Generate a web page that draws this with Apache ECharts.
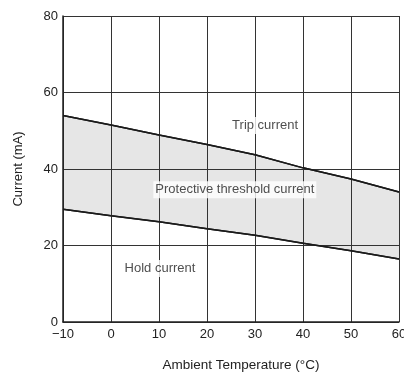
<!DOCTYPE html>
<html>
<head>
<meta charset="utf-8">
<script src="https://cdn.jsdelivr.net/npm/echarts@6/dist/echarts.min.js"></script>
<style>
  html, body { margin: 0; padding: 0; background: #fff; }
  #chart { width: 404px; height: 374px; }
</style>
</head>
<body>
<div id="chart"></div>
<script>
// Ambient temperature (°C) sample points
const temperatures = [-10, 0, 10, 20, 30, 40, 50, 60];
// Trip current (mA) – upper boundary
const tripCurrent = [54.0, 51.5, 48.9, 46.4, 43.7, 40.3, 37.4, 34.0];
// Hold current (mA) – lower boundary
const holdCurrent = [29.5, 27.8, 26.2, 24.4, 22.7, 20.6, 18.6, 16.5];
// Region annotations: [temperature, current, text]
const regionLabels = [
  [32.1, 51.4, 'Trip current'],
  [25.8, 34.6, 'Protective threshold current'],
  [10.2, 14.0, 'Hold current']
];

const FONT = 'Liberation Sans, Arial, Helvetica, sans-serif';
const INK = '#222';

const pairs = (ys) => temperatures.map((t, i) => [t, ys[i]]);

const chart = echarts.init(document.getElementById('chart'), null, { renderer: 'canvas' });

chart.setOption({
  animation: false,
  backgroundColor: '#fff',
  grid: { left: 63, right: 5, top: 16, bottom: 52, containLabel: false, outerBoundsMode: 'none' },
  xAxis: {
    type: 'value',
    min: -10, max: 60, interval: 10,
    z: 5,
    name: 'Ambient Temperature (°C)',
    nameLocation: 'middle',
    nameGap: 36,
    nameTextStyle: { fontFamily: FONT, fontSize: 13.5, color: INK, padding: [0, 0, 0, 20] },
    axisLine: { show: true, onZero: false, lineStyle: { color: INK, width: 1.5 } },
    axisTick: { show: false },
    axisLabel: {
      margin: 6, fontFamily: FONT, fontSize: 13, color: INK,
      formatter: (v) => String(v).replace('-', '\u2212')
    },
    splitLine: { show: true, lineStyle: { color: '#333', width: 1 } }
  },
  yAxis: {
    type: 'value',
    min: 0, max: 80, interval: 20,
    z: 5,
    name: 'Current (mA)',
    nameLocation: 'middle',
    nameGap: 38,
    nameTextStyle: { fontFamily: FONT, fontSize: 13, color: INK },
    axisLine: { show: true, onZero: false, lineStyle: { color: INK, width: 1.5 } },
    axisTick: { show: false },
    axisLabel: { margin: 5, fontFamily: FONT, fontSize: 13, color: INK },
    splitLine: { show: true, lineStyle: { color: '#333', width: 1 } }
  },
  series: [
    {
      // trip current curve; grey fill below it forms the threshold band
      type: 'line', data: pairs(tripCurrent), symbol: 'none', z: 1,
      lineStyle: { color: '#1a1a1a', width: 1.5 },
      areaStyle: { color: '#e6e6e6', opacity: 1, origin: 'start' }
    },
    {
      // hold current curve; white fill clears the band below it
      type: 'line', data: pairs(holdCurrent), symbol: 'none', z: 2,
      lineStyle: { color: '#1a1a1a', width: 1.5 },
      areaStyle: { color: '#ffffff', opacity: 1, origin: 'start' }
    },
    {
      // curve strokes drawn again above the grid lines
      type: 'line', data: pairs(tripCurrent), symbol: 'none', z: 6,
      lineStyle: { color: '#1a1a1a', width: 1.5 }
    },
    {
      type: 'line', data: pairs(holdCurrent), symbol: 'none', z: 6,
      lineStyle: { color: '#1a1a1a', width: 1.5 }
    },
    {
      type: 'scatter', z: 10, symbolSize: 0,
      data: regionLabels.map(([t, c, s]) => ({ value: [t, c], name: s })),
      label: {
        show: true, position: 'inside',
        formatter: (p) => p.name,
        fontFamily: FONT, fontSize: 13, color: INK,
        backgroundColor: '#fff', padding: [2, 2]
      },
      silent: true
    }
  ]
});
</script>
</body>
</html>
